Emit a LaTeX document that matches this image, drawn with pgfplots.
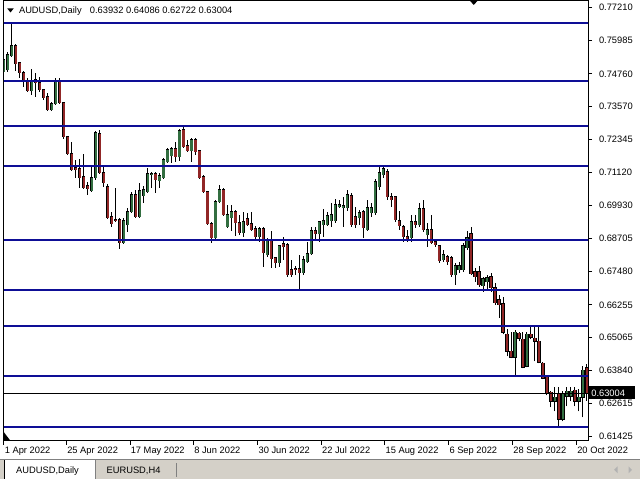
\documentclass[border=0pt]{standalone}
\usepackage{fontspec}
\setmainfont{Liberation Sans}
\usepackage{pgfplots}
\usepackage{pgfplotstable}
\pgfplotsset{compat=1.18}

\definecolor{bullbody}{RGB}{50,110,64}
\definecolor{bearbody}{RGB}{145,38,38}
\definecolor{level}{RGB}{14,14,150}
\definecolor{panel}{RGB}{212,208,200}

% daily bars, index 0 = 1 Apr 2022; i open high low close
\pgfplotstableread{
i o h l c
0 0.74831 0.75346 0.74758 0.75272
1 0.74905 0.75566 0.74831 0.75456
2 0.75419 0.76633 0.75383 0.75787
7 0.74133 0.74941 0.73986 0.74500
12 0.73434 0.73728 0.73397 0.73655
13 0.73655 0.74611 0.73618 0.74463
22 0.70457 0.71339 0.70420 0.70935
23 0.70935 0.72662 0.70861 0.72589
30 0.68546 0.69464 0.68509 0.69354
31 0.69207 0.69832 0.68949 0.69684
32 0.69684 0.70420 0.69648 0.70310
34 0.69501 0.70751 0.69464 0.70457
35 0.70273 0.70640 0.70016 0.70494
36 0.70420 0.71302 0.70384 0.71082
37 0.71045 0.71155 0.70567 0.71082
39 0.70824 0.71119 0.70567 0.71008
40 0.70935 0.71670 0.70898 0.71596
41 0.71522 0.72038 0.71486 0.71964
42 0.71743 0.72075 0.71486 0.72001
44 0.71707 0.72736 0.71559 0.72662
47 0.71927 0.72405 0.71522 0.72332
53 0.68729 0.70126 0.68656 0.70052
54 0.70052 0.70677 0.70016 0.70494
56 0.69134 0.69942 0.69097 0.69574
57 0.69464 0.69942 0.68986 0.69684
60 0.68913 0.69684 0.68766 0.69317
64 0.68766 0.69134 0.68582 0.69060
66 0.68104 0.68729 0.68031 0.68656
69 0.67810 0.68472 0.67663 0.68435
75 0.67443 0.68067 0.67369 0.67920
76 0.67846 0.68582 0.67810 0.68141
77 0.68141 0.69134 0.68104 0.68986
79 0.68876 0.69354 0.68582 0.69317
80 0.69207 0.69795 0.68766 0.69354
81 0.69207 0.69684 0.69170 0.69537
82 0.69354 0.70016 0.69134 0.69574
83 0.69354 0.70163 0.69281 0.69942
84 0.69869 0.70126 0.69832 0.69942
85 0.69832 0.70237 0.69134 0.69905
86 0.69832 0.70494 0.69721 0.70310
89 0.69464 0.69758 0.69207 0.69648
91 0.69023 0.70126 0.68986 0.69832
92 0.69648 0.70016 0.69501 0.69832
93 0.69648 0.70898 0.69574 0.70787
94 0.70604 0.71339 0.70494 0.71119
95 0.71045 0.71339 0.70935 0.71265
102 0.68729 0.69574 0.68582 0.69317
104 0.69207 0.70016 0.69134 0.69795
106 0.68839 0.69281 0.68399 0.69023
110 0.67920 0.68288 0.67846 0.68104
113 0.67369 0.67810 0.67001 0.67699
114 0.67553 0.67846 0.67443 0.67699
115 0.67553 0.68546 0.67479 0.68435
116 0.68362 0.68986 0.68288 0.68729
120 0.66964 0.67296 0.66744 0.67222
121 0.67111 0.67369 0.66818 0.67259
128 0.64318 0.65310 0.63620 0.65237
131 0.63987 0.65273 0.63950 0.65163
138 0.62700 0.63215 0.62332 0.62848
140 0.62039 0.63068 0.61965 0.62995
141 0.62885 0.63215 0.62517 0.63068
142 0.62885 0.63215 0.62700 0.63068
144 0.62700 0.63142 0.62332 0.62848
145 0.62848 0.63987 0.62113 0.63840
}\upbars

\pgfplotstableread{
i o h l c
3 0.75787 0.75861 0.74868 0.75125
4 0.75162 0.75198 0.74611 0.74795
5 0.74795 0.74868 0.74280 0.74463
6 0.74500 0.74611 0.74096 0.74133
8 0.74537 0.74795 0.73913 0.74427
9 0.74427 0.74648 0.74096 0.74170
10 0.74170 0.74206 0.73802 0.73876
11 0.73913 0.74060 0.73397 0.73434
14 0.74463 0.74611 0.73655 0.73692
15 0.73692 0.73728 0.72368 0.72442
16 0.72442 0.72478 0.71780 0.71817
17 0.71817 0.72258 0.71192 0.71229
18 0.71302 0.71596 0.70935 0.71229
19 0.71265 0.71633 0.70567 0.70935
20 0.70972 0.71817 0.70530 0.70567
21 0.70640 0.70787 0.70310 0.70530
24 0.72552 0.72699 0.71082 0.71119
25 0.71119 0.71339 0.70604 0.70751
26 0.70604 0.70714 0.69427 0.69464
27 0.69501 0.69684 0.69134 0.69244
28 0.69391 0.70567 0.69317 0.69354
29 0.69391 0.69464 0.68325 0.68546
33 0.70310 0.70494 0.69464 0.69501
38 0.71082 0.71155 0.70384 0.70861
43 0.72001 0.72258 0.71522 0.71707
45 0.72699 0.72810 0.72038 0.72075
46 0.72111 0.72332 0.71890 0.71927
48 0.72332 0.72405 0.71780 0.71890
49 0.71927 0.71964 0.70898 0.70935
50 0.70972 0.71045 0.70384 0.70420
51 0.70420 0.70457 0.69207 0.69244
52 0.69244 0.69317 0.68546 0.68729
55 0.70494 0.70567 0.69537 0.69574
58 0.69684 0.69758 0.68802 0.69281
59 0.69281 0.69574 0.68839 0.68913
61 0.69427 0.69648 0.69170 0.69207
62 0.69244 0.69684 0.68986 0.69023
63 0.69060 0.69170 0.68656 0.68766
65 0.69060 0.69134 0.67663 0.68178
67 0.68656 0.68986 0.67626 0.67957
68 0.67994 0.68031 0.67626 0.67810
70 0.68509 0.68766 0.67920 0.68399
71 0.68472 0.68546 0.67296 0.67369
72 0.67553 0.67920 0.67296 0.67369
73 0.67589 0.67699 0.67369 0.67553
74 0.67589 0.68104 0.66781 0.67443
78 0.68986 0.69134 0.68656 0.68876
87 0.70273 0.70384 0.69134 0.69207
88 0.69501 0.69869 0.69097 0.69207
90 0.69684 0.69758 0.68729 0.69097
96 0.71155 0.71265 0.70126 0.70237
97 0.70237 0.70384 0.69869 0.70126
98 0.70237 0.70273 0.69317 0.69391
99 0.69354 0.69721 0.69023 0.69170
100 0.69134 0.69207 0.68582 0.68766
101 0.68766 0.69023 0.68582 0.68656
103 0.69317 0.69574 0.69097 0.69207
105 0.69795 0.70126 0.68949 0.69023
107 0.69023 0.69574 0.68509 0.68546
108 0.68582 0.68656 0.68399 0.68472
109 0.68435 0.68472 0.67810 0.67883
111 0.68031 0.68104 0.67736 0.67846
112 0.67994 0.68067 0.67296 0.67369
117 0.68876 0.69134 0.67369 0.67406
118 0.67479 0.67626 0.67111 0.67296
119 0.67479 0.67699 0.66928 0.67001
122 0.67296 0.67443 0.66744 0.66891
123 0.66891 0.67075 0.66266 0.66340
124 0.66450 0.66634 0.65788 0.66266
125 0.66303 0.66561 0.65163 0.65237
126 0.65163 0.65347 0.64355 0.64538
127 0.64538 0.65273 0.64281 0.64318
129 0.65200 0.65273 0.64906 0.65016
130 0.64980 0.65273 0.63913 0.63950
132 0.65163 0.65421 0.64980 0.65053
133 0.65016 0.65421 0.64170 0.64906
134 0.64906 0.65421 0.64097 0.64134
135 0.64097 0.64134 0.63509 0.63546
136 0.63583 0.63620 0.62921 0.62995
137 0.63032 0.63068 0.62480 0.62700
139 0.62995 0.63215 0.61745 0.62039
143 0.63105 0.63215 0.62517 0.62700
146 0.63932 0.64086 0.62722 0.63004
}\downbars

\pgfplotsset{
  candlewick/.style={black, line width=0.75pt, quiver={u=0, v=\thisrow{h}-\thisrow{l}}},
  candleedge/.style={black, line width=2.4pt, shorten <=-0.375pt, shorten >=-0.375pt,
                     quiver={u=0, v=\thisrow{c}-\thisrow{o}}},
  candlebody/.style={line width=1.6pt, quiver={u=0, v=\thisrow{c}-\thisrow{o}}},
  levelline/.style={level, line width=1.5pt},
}

\begin{document}
\begin{tikzpicture}[font=\fontsize{7pt}{8pt}\selectfont]
\begin{scope}[x=0.75pt, y=-0.75pt]
  \useasboundingbox (0,0) rectangle (640,480);
  \fill[white] (0,0) rectangle (640,480);
\end{scope}

\begin{axis}[
    at={(2.625pt,-0.375pt)}, anchor=north west,
    scale only axis, width=438.75pt, height=330.75pt,
    xmin=0.05, xmax=146.3, ymin=0.61248, ymax=0.77460,
    axis line style={black, line width=0.75pt},
    tick align=outside, major tick length=3pt,
    tick style={black, line width=0.75pt},
    xtick pos=left, ytick pos=right, yticklabel pos=right,
    scaled ticks=false,
    xtick={0.05,15.7,31.6,47.5,63.6,79.5,95.4,111.4,127.4,143.4},
    xticklabels={1 Apr 2022,25 Apr 2022,17 May 2022,8 Jun 2022,30 Jun 2022,22 Jul 2022,15 Aug 2022,6 Sep 2022,28 Sep 2022,20 Oct 2022},
    ytick={0.77210,0.75985,0.74760,0.73570,0.72345,0.71120,0.69930,0.68705,0.67480,0.66255,0.65065,0.63840,0.62615,0.61425},
    yticklabels={0.77210,0.75985,0.74760,0.73570,0.72345,0.71120,0.69930,0.68705,0.67480,0.66255,0.65065,0.63840,0.62615,0.61425},
    ticklabel style={font=\fontsize{7pt}{8pt}\selectfont, inner sep=0pt},
    xticklabel style={anchor=north west, xshift=0.4pt, yshift=-1.5pt},
    yticklabel style={anchor=west, xshift=5pt},
  ]
  \addplot[candlewick] table[x=i, y=l] \upbars;
  \addplot[candlewick] table[x=i, y=l] \downbars;
  \addplot[candleedge] table[x=i, y=o] \upbars;
  \addplot[candleedge] table[x=i, y=o] \downbars;
  \addplot[candlebody, bullbody] table[x=i, y=o] \upbars;
  \addplot[candlebody, bearbody] table[x=i, y=o] \downbars;

  \addplot[black, line width=0.75pt] coordinates {(-5,0.63004) (160,0.63004)};

  \addplot[levelline] coordinates {(-5,0.76644) (160,0.76644)};
  \addplot[levelline] coordinates {(-5,0.74512) (160,0.74512)};
  \addplot[levelline] coordinates {(-5,0.72821) (160,0.72821)};
  \addplot[levelline] coordinates {(-5,0.71350) (160,0.71350)};
  \addplot[levelline] coordinates {(-5,0.68656) (160,0.68656)};
  \addplot[levelline] coordinates {(-5,0.66792) (160,0.66792)};
  \addplot[levelline] coordinates {(-5,0.65469) (160,0.65469)};
  \addplot[levelline] coordinates {(-5,0.63631) (160,0.63631)};
  \addplot[levelline] coordinates {(-5,0.61756) (160,0.61756)};
\end{axis}

\begin{scope}[x=0.75pt, y=-0.75pt]
  % header line
  \fill (6.7,8.3) -- (13.3,8.3) -- (10,12.5) -- cycle;
  \node[anchor=base west, inner sep=0pt] at (18.3,13.3) {AUDUSD,Daily};
  \node[anchor=base west, inner sep=0pt] at (89.3,13.3) {0.63932 0.64086 0.62722 0.63004};
  % chart shift marker and scroll marker
  \fill (470,0.5) -- (478,0.5) -- (474,5) -- cycle;
  \fill (3.5,433) -- (3.5,441.5) -- (10,441.5) -- cycle;
  % bid price tag
  \fill (589,387) rectangle (635,400);
  \node[white, anchor=west, inner sep=0pt] at (591.5,393.7) {0.63004};
  % window tabs
  \fill[panel] (0,461) rectangle (640,480);
  \draw[gray, line width=0.75pt] (0,460.5) -- (640,460.5);
  \fill[white] (4,461) rectangle (95,480);
  \draw[black, line width=0.75pt] (4.5,461) -- (4.5,480);
  \draw[gray, line width=0.75pt] (95.5,461) -- (95.5,480);
  \node[anchor=base west, inner sep=0pt] at (15.5,474) {AUDUSD,Daily};
  \node[anchor=base west, inner sep=0pt] at (106,474) {EURUSD,H4};
  \draw[gray, line width=0.75pt] (176.5,464) -- (176.5,478);
  \fill[gray!60] (618,467) -- (618,474) -- (614.5,470.5) -- cycle;
  \fill[gray!60] (629,467) -- (629,474) -- (632.5,470.5) -- cycle;
\end{scope}
\end{tikzpicture}
\end{document}
